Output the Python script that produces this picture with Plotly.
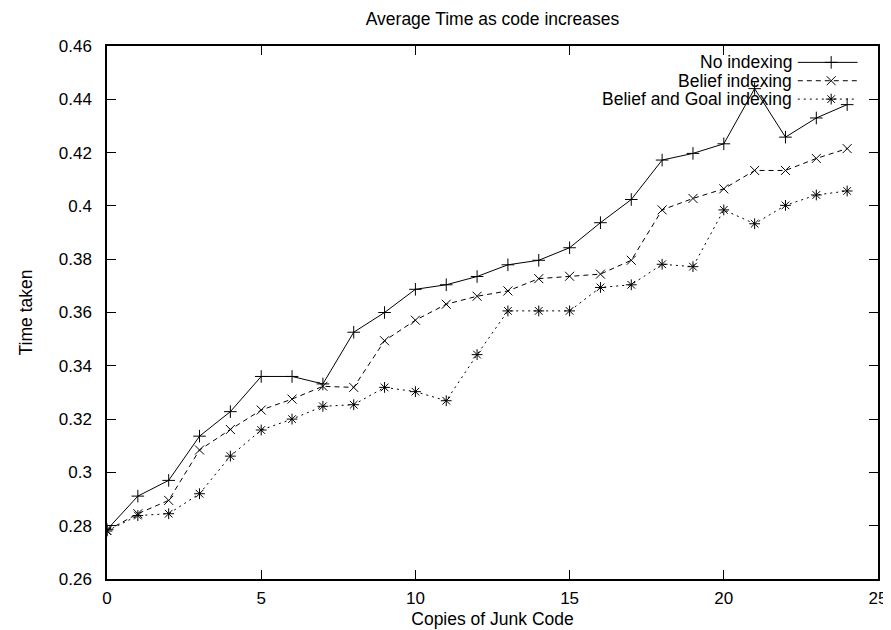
import plotly.graph_objects as go

copies = list(range(25))
no_indexing = [0.2785, 0.2911, 0.2970, 0.3136, 0.3228, 0.3360, 0.3360, 0.3332, 0.3526, 0.3600,
               0.3687, 0.3704, 0.3735, 0.3779, 0.3796, 0.3843, 0.3937, 0.4024, 0.4172, 0.4197,
               0.4233, 0.4440, 0.4258, 0.4330, 0.4380]
belief_indexing = [0.2782, 0.2845, 0.2895, 0.3084, 0.3161, 0.3234, 0.3275, 0.3323, 0.3319, 0.3494,
                   0.3571, 0.3631, 0.3661, 0.3681, 0.3727, 0.3736, 0.3744, 0.3796, 0.3985, 0.4028,
                   0.4064, 0.4133, 0.4133, 0.4178, 0.4215]
belief_goal_indexing = [0.2780, 0.2838, 0.2845, 0.2920, 0.3061, 0.3159, 0.3200, 0.3248, 0.3254, 0.3319,
                        0.3303, 0.3269, 0.3442, 0.3606, 0.3606, 0.3606, 0.3694, 0.3704, 0.3781, 0.3772,
                        0.3985, 0.3933, 0.4002, 0.4041, 0.4056]

series_names = ["No indexing", "Belief indexing", "Belief and Goal indexing"]
x_tickvals = [0, 5, 10, 15, 20, 25]
x_ticktext = ["0", "5", "10", "15", "20", "25"]
y_tickvals = [0.26, 0.28, 0.30, 0.32, 0.34, 0.36, 0.38, 0.40, 0.42, 0.44, 0.46]
y_ticktext = ["0.26", "0.28", "0.3", "0.32", "0.34", "0.36", "0.38", "0.4", "0.42", "0.44", "0.46"]

FONT = "Liberation Sans, Arial, Helvetica, sans-serif"
TXT = 17.5
styles = [
    dict(dash="solid", symbol="cross-thin-open"),
    dict(dash="5px,4px", symbol="x-thin-open"),
    dict(dash="2px,4px", symbol="asterisk-open"),
]
data = [no_indexing, belief_indexing, belief_goal_indexing]

fig = go.Figure()
for name, ys, st in zip(series_names, data, styles):
    fig.add_trace(go.Scatter(
        x=copies, y=ys, mode="lines+markers", name=name,
        line=dict(color="black", width=1, dash=st["dash"]),
        marker=dict(symbol=st["symbol"], size=9, color="black",
                    line=dict(color="black", width=1)),
        showlegend=False,
    ))

# manual gnuplot-style legend (samples drawn on an overlay axis in pixel units)
W, H = 774, 534
row_y = [517.6, 499.2, 480.8]
for name, st, ry in zip(series_names, styles, row_y):
    fig.add_trace(go.Scatter(
        x=[693.5, 753.5], y=[ry, ry], mode="lines", xaxis="x2", yaxis="y2",
        line=dict(color="black", width=1, dash=st["dash"]), showlegend=False,
        hoverinfo="skip"))
    fig.add_trace(go.Scatter(
        x=[727], y=[ry], mode="markers", xaxis="x2", yaxis="y2",
        marker=dict(symbol=st["symbol"], size=9, color="black",
                    line=dict(color="black", width=1)),
        showlegend=False, hoverinfo="skip"))
    fig.add_annotation(x=690, y=ry, xref="x2", yref="y2", text=name,
                       showarrow=False, xanchor="right", yanchor="middle",
                       font=dict(family=FONT, size=TXT, color="black"))

axis_common = dict(showline=True, linecolor="black", linewidth=1.5, mirror="ticks",
                   ticks="inside", ticklen=9, tickwidth=1, tickcolor="black",
                   showgrid=False, zeroline=False,
                   tickfont=dict(family=FONT, size=17, color="black"))

fig.update_layout(
    width=891, height=630,
    margin=dict(l=99, r=18, t=38, b=58),
    paper_bgcolor="white", plot_bgcolor="white",
    font=dict(family=FONT, size=TXT, color="black"),
    title=dict(text="Average Time as code increases", x=0.5, xref="paper",
               y=1 - 11 / 630, yref="container", yanchor="middle",
               font=dict(family=FONT, size=TXT, color="black")),
    xaxis=dict(range=[0, 25], tickvals=x_tickvals, ticktext=x_ticktext,
               title=dict(text="Copies of Junk Code", standoff=6,
                          font=dict(family=FONT, size=TXT)),
               ticklabelstandoff=3, **axis_common),
    yaxis=dict(range=[0.26, 0.46], tickvals=y_tickvals, ticktext=y_ticktext,
               title=dict(text="Time taken", standoff=22,
                          font=dict(family=FONT, size=TXT)),
               ticklabelstandoff=10, **axis_common),
    xaxis2=dict(range=[0, W], overlaying="x", visible=False, fixedrange=True),
    yaxis2=dict(range=[0, H], overlaying="y", visible=False, fixedrange=True),
)

fig.write_html("out.html")
